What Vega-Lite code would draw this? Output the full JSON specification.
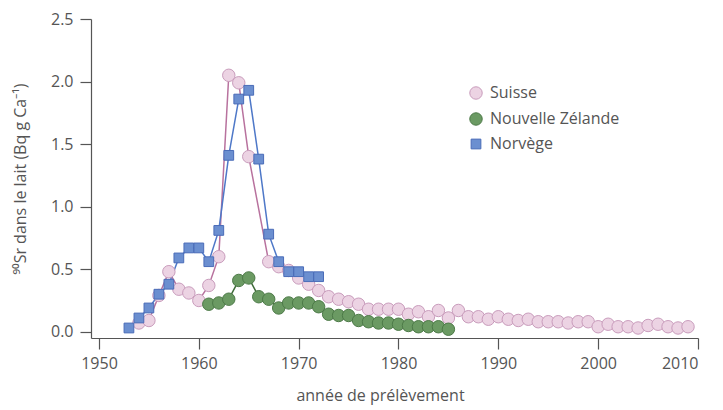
{
  "$schema": "https://vega.github.io/schema/vega-lite/v6.json",
  "width": 607,
  "height": 319,
  "autosize": {"type": "none"},
  "padding": {"left": 91, "top": 19, "right": 25, "bottom": 72},
  "background": "white",
  "config": {
    "view": {"stroke": null},
    "font": "Open Sans",
    "axis": {"grid": false, "domainColor": "#555", "tickColor": "#555", "labelColor": "#555", "titleColor": "#555", "labelFontSize": 16, "titleFontSize": 16, "titleFontWeight": "normal", "labelFont": "Open Sans", "titleFont": "Open Sans", "tickSize": 11, "domainWidth": 1.2, "tickWidth": 1.2},
    "legend": {"labelFontSize": 16, "labelColor": "#555", "labelFont": "Open Sans", "rowPadding": 8, "labelOffset": 6, "symbolStrokeWidth": 1}
  },
  "data": {"values": [
    {"pays":"Suisse","annee":1954,"sr":0.07},{"pays":"Suisse","annee":1955,"sr":0.09},{"pays":"Suisse","annee":1956,"sr":0.29},{"pays":"Suisse","annee":1957,"sr":0.48},{"pays":"Suisse","annee":1958,"sr":0.34},{"pays":"Suisse","annee":1959,"sr":0.31},{"pays":"Suisse","annee":1960,"sr":0.25},{"pays":"Suisse","annee":1961,"sr":0.37},{"pays":"Suisse","annee":1962,"sr":0.60},{"pays":"Suisse","annee":1963,"sr":2.05},{"pays":"Suisse","annee":1964,"sr":1.99},{"pays":"Suisse","annee":1965,"sr":1.40},{"pays":"Suisse","annee":1967,"sr":0.56},{"pays":"Suisse","annee":1968,"sr":0.52},{"pays":"Suisse","annee":1969,"sr":0.49},{"pays":"Suisse","annee":1970,"sr":0.43},{"pays":"Suisse","annee":1971,"sr":0.38},{"pays":"Suisse","annee":1972,"sr":0.33},{"pays":"Suisse","annee":1973,"sr":0.28},{"pays":"Suisse","annee":1974,"sr":0.26},{"pays":"Suisse","annee":1975,"sr":0.24},{"pays":"Suisse","annee":1976,"sr":0.22},{"pays":"Suisse","annee":1977,"sr":0.18},{"pays":"Suisse","annee":1978,"sr":0.18},{"pays":"Suisse","annee":1979,"sr":0.18},{"pays":"Suisse","annee":1980,"sr":0.18},{"pays":"Suisse","annee":1981,"sr":0.14},{"pays":"Suisse","annee":1982,"sr":0.16},{"pays":"Suisse","annee":1983,"sr":0.12},{"pays":"Suisse","annee":1984,"sr":0.17},{"pays":"Suisse","annee":1985,"sr":0.11},{"pays":"Suisse","annee":1986,"sr":0.17},{"pays":"Suisse","annee":1987,"sr":0.12},{"pays":"Suisse","annee":1988,"sr":0.12},{"pays":"Suisse","annee":1989,"sr":0.10},{"pays":"Suisse","annee":1990,"sr":0.12},{"pays":"Suisse","annee":1991,"sr":0.10},{"pays":"Suisse","annee":1992,"sr":0.09},{"pays":"Suisse","annee":1993,"sr":0.10},{"pays":"Suisse","annee":1994,"sr":0.08},{"pays":"Suisse","annee":1995,"sr":0.08},{"pays":"Suisse","annee":1996,"sr":0.08},{"pays":"Suisse","annee":1997,"sr":0.07},{"pays":"Suisse","annee":1998,"sr":0.08},{"pays":"Suisse","annee":1999,"sr":0.08},{"pays":"Suisse","annee":2000,"sr":0.04},{"pays":"Suisse","annee":2001,"sr":0.06},{"pays":"Suisse","annee":2002,"sr":0.04},{"pays":"Suisse","annee":2003,"sr":0.04},{"pays":"Suisse","annee":2004,"sr":0.03},{"pays":"Suisse","annee":2005,"sr":0.05},{"pays":"Suisse","annee":2006,"sr":0.06},{"pays":"Suisse","annee":2007,"sr":0.04},{"pays":"Suisse","annee":2008,"sr":0.03},{"pays":"Suisse","annee":2009,"sr":0.04},
    {"pays":"Nouvelle Zélande","annee":1961,"sr":0.22},{"pays":"Nouvelle Zélande","annee":1962,"sr":0.23},{"pays":"Nouvelle Zélande","annee":1963,"sr":0.26},{"pays":"Nouvelle Zélande","annee":1964,"sr":0.41},{"pays":"Nouvelle Zélande","annee":1965,"sr":0.43},{"pays":"Nouvelle Zélande","annee":1966,"sr":0.28},{"pays":"Nouvelle Zélande","annee":1967,"sr":0.26},{"pays":"Nouvelle Zélande","annee":1968,"sr":0.19},{"pays":"Nouvelle Zélande","annee":1969,"sr":0.23},{"pays":"Nouvelle Zélande","annee":1970,"sr":0.23},{"pays":"Nouvelle Zélande","annee":1971,"sr":0.23},{"pays":"Nouvelle Zélande","annee":1972,"sr":0.20},{"pays":"Nouvelle Zélande","annee":1973,"sr":0.14},{"pays":"Nouvelle Zélande","annee":1974,"sr":0.13},{"pays":"Nouvelle Zélande","annee":1975,"sr":0.13},{"pays":"Nouvelle Zélande","annee":1976,"sr":0.09},{"pays":"Nouvelle Zélande","annee":1977,"sr":0.08},{"pays":"Nouvelle Zélande","annee":1978,"sr":0.07},{"pays":"Nouvelle Zélande","annee":1979,"sr":0.07},{"pays":"Nouvelle Zélande","annee":1980,"sr":0.06},{"pays":"Nouvelle Zélande","annee":1981,"sr":0.05},{"pays":"Nouvelle Zélande","annee":1982,"sr":0.04},{"pays":"Nouvelle Zélande","annee":1983,"sr":0.04},{"pays":"Nouvelle Zélande","annee":1984,"sr":0.04},{"pays":"Nouvelle Zélande","annee":1985,"sr":0.02},
    {"pays":"Norvège","annee":1953,"sr":0.03},{"pays":"Norvège","annee":1954,"sr":0.11},{"pays":"Norvège","annee":1955,"sr":0.19},{"pays":"Norvège","annee":1956,"sr":0.30},{"pays":"Norvège","annee":1957,"sr":0.38},{"pays":"Norvège","annee":1958,"sr":0.59},{"pays":"Norvège","annee":1959,"sr":0.67},{"pays":"Norvège","annee":1960,"sr":0.67},{"pays":"Norvège","annee":1961,"sr":0.56},{"pays":"Norvège","annee":1962,"sr":0.81},{"pays":"Norvège","annee":1963,"sr":1.41},{"pays":"Norvège","annee":1964,"sr":1.86},{"pays":"Norvège","annee":1965,"sr":1.93},{"pays":"Norvège","annee":1966,"sr":1.38},{"pays":"Norvège","annee":1967,"sr":0.78},{"pays":"Norvège","annee":1968,"sr":0.56},{"pays":"Norvège","annee":1969,"sr":0.48},{"pays":"Norvège","annee":1970,"sr":0.48},{"pays":"Norvège","annee":1971,"sr":0.44},{"pays":"Norvège","annee":1972,"sr":0.44}
  ]},
  "encoding": {
    "x": {"field": "annee", "type": "quantitative", "scale": {"domain": [1949.2, 2010], "nice": false, "zero": false},
      "axis": {"values": [1950,1960,1970,1980,1990,2000,2010], "format": "d", "title": "année de prélèvement", "titlePadding": 16, "titleX": 289, "labelPadding": 6}},
    "y": {"field": "sr", "type": "quantitative", "scale": {"domain": [-0.05, 2.5], "nice": false, "zero": false},
      "axis": {"values": [0,0.5,1,1.5,2,2.5], "format": ".1f", "title": "⁹⁰Sr dans le lait (Bq g Ca⁻¹)", "titlePadding": 22, "labelPadding": 7}}
  },
  "layer": [
    {
      "transform": [{"filter": "datum.pays === 'Suisse'"}],
      "mark": {"type": "line", "strokeWidth": 1.5, "color": "#b8729e"},
      "encoding": {}
    },
    {
      "transform": [{"filter": "datum.pays === 'Nouvelle Zélande'"}],
      "mark": {"type": "line", "strokeWidth": 1.5, "color": "#3f6b3a"},
      "encoding": {}
    },
    {
      "transform": [{"filter": "datum.pays === 'Norvège'"}],
      "mark": {"type": "line", "strokeWidth": 1.5, "color": "#4e78c8"},
      "encoding": {}
    },
    {
      "mark": {"type": "point", "filled": true, "opacity": 1, "strokeWidth": 1},
      "encoding": {
        "fill": {"field": "pays", "type": "nominal",
          "scale": {"domain": ["Suisse","Nouvelle Zélande","Norvège"], "range": ["#ecd3e3","#6b9a63","#6b8fd0"]},
          "legend": {"title": null, "orient": "none", "legendX": 377, "legendY": 66}},
        "stroke": {"field": "pays", "type": "nominal",
          "scale": {"domain": ["Suisse","Nouvelle Zélande","Norvège"], "range": ["#c99cbc","#4d7a48","#4a6cb8"]},
          "legend": {"title": null, "orient": "none", "legendX": 377, "legendY": 66}},
        "shape": {"field": "pays", "type": "nominal",
          "scale": {"domain": ["Suisse","Nouvelle Zélande","Norvège"], "range": ["circle","circle","square"]},
          "legend": {"title": null, "orient": "none", "legendX": 377, "legendY": 66}},
        "size": {"field": "pays", "type": "nominal",
          "scale": {"type": "ordinal", "domain": ["Suisse","Nouvelle Zélande","Norvège"], "range": [155, 155, 95]},
          "legend": {"title": null, "orient": "none", "legendX": 377, "legendY": 66}}
      }
    }
  ]
}
